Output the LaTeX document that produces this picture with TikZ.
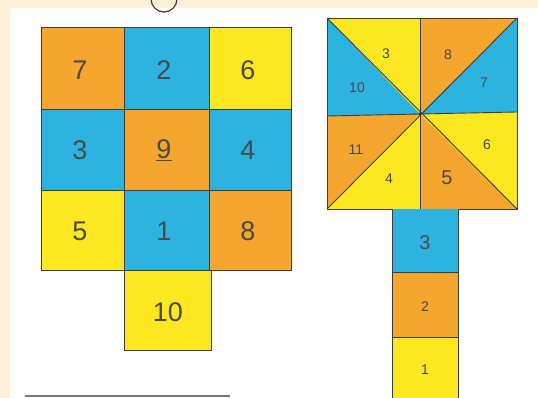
\documentclass[tikz,border=0pt]{standalone}
\usepackage{fontspec}
\setmainfont{Liberation Sans}
\definecolor{cream}{HTML}{FDF0D6}
\definecolor{org}{HTML}{F4A62E}
\definecolor{blu}{HTML}{2DB3E0}
\definecolor{yel}{HTML}{FDE720}
\definecolor{ink}{HTML}{3C3C3C}
\definecolor{num}{HTML}{4A4A4A}
\tikzset{
  edge/.style={draw=ink, line width=0.9pt},
  bignum/.style={text=num, font=\fontsize{27}{27}\selectfont, inner sep=0pt},
  midnum/.style={text=num, font=\fontsize{20}{20}\selectfont, inner sep=0pt},
  smallnum/.style={text=num, font=\fontsize{14}{14}\selectfont, inner sep=0pt}
}
\begin{document}
\begin{tikzpicture}[x=1pt,y=-1pt]
\useasboundingbox (0,0) rectangle (538,398);
\fill[cream] (0,0) rectangle (538,398);
\fill[white] (10,8) rectangle (538,398);
% top arc and bottom line fragments
\draw[ink, line width=1.2pt] (151,-1) arc[start angle=180, end angle=0, radius=13];
\draw[ink!70, line width=1.6pt] (25,396) -- (230,396);
% left grid
\fill[org] (41,27) rectangle (124,109);
\fill[blu] (124,27) rectangle (209,109);
\fill[yel] (209,27) rectangle (291,109);
\fill[blu] (41,109) rectangle (124,190);
\fill[org] (124,109) rectangle (209,190);
\fill[blu] (209,109) rectangle (291,190);
\fill[yel] (41,190) rectangle (124,270);
\fill[blu] (124,190) rectangle (209,270);
\fill[org] (209,190) rectangle (291,270);
\fill[yel] (124,270) rectangle (211,350);
\draw[edge] (41,27) rectangle (291,270);
\draw[edge] (124,27) -- (124,350) -- (211,350) -- (211,270);
\draw[edge] (209,27) -- (209,270);
\draw[edge] (41,109) -- (291,109);
\draw[edge] (41,190) -- (291,190);
\draw[edge] (41,270) -- (291,270);
\node[bignum] (l7) at (80,70) {7};
\node[bignum] (l2) at (164,70) {2};
\node[bignum] (l6) at (248,70) {6};
\node[bignum] (l3) at (80,150) {3};
\node[bignum] (l9) at (164,150) {\underline{9}};
\node[bignum] (l4) at (248,150) {4};
\node[bignum] (l5) at (80,231) {5};
\node[bignum] (l1) at (164,231) {1};
\node[bignum] (l8) at (248,231) {8};
\node[bignum] (l10) at (168,312) {10};
% right square pinwheel
\coordinate (TL) at (327,18);
\coordinate (TR) at (517,18);
\coordinate (BR) at (517,209);
\coordinate (BL) at (327,209);
\coordinate (TM) at (420,18);
\coordinate (BM) at (420,209);
\coordinate (LM) at (327,116);
\coordinate (RM) at (517,112);
\coordinate (C) at (420,114);
\fill[yel] (TL) -- (TM) -- (C) -- cycle;
\fill[blu] (TL) -- (C) -- (LM) -- cycle;
\fill[org] (TM) -- (TR) -- (C) -- cycle;
\fill[blu] (TR) -- (RM) -- (C) -- cycle;
\fill[yel] (RM) -- (BR) -- (C) -- cycle;
\fill[org] (C) -- (BR) -- (BM) -- cycle;
\fill[yel] (C) -- (BM) -- (BL) -- cycle;
\fill[org] (LM) -- (C) -- (BL) -- cycle;
\draw[edge] (TL) -- (TR) -- (BR) -- (BL) -- cycle;
\draw[edge] (TM) -- (BM);
\draw[edge] (LM) -- (C) -- (RM);
\draw[edge] (TL) -- (BR);
\draw[edge] (TR) -- (BL);
\fill[ink] (C) circle (1.8);
\node[smallnum] (r3) at (386,54) {3};
\node[smallnum] (r10) at (357,88) {10};
\node[smallnum] (r8) at (448,55) {8};
\node[smallnum] (r7) at (484,83) {7};
\node[smallnum] (r6) at (487,145) {6};
\node[midnum] (r5) at (447,178) {5};
\node[smallnum] (r4) at (389,179) {4};
\node[smallnum] (r11) at (356,150) {11};
% tail
\fill[blu] (392,209) rectangle (458,272);
\fill[org] (392,272) rectangle (458,337);
\fill[yel] (392,337) rectangle (458,398);
\draw[edge] (392,209) -- (392,398);
\draw[edge] (458,209) -- (458,398);
\draw[edge] (392,272) -- (458,272);
\draw[edge] (392,337) -- (458,337);
\node[midnum] (t3) at (425,243) {3};
\node[smallnum] (t2) at (425,307) {2};
\node[smallnum] (t1) at (425,370) {1};
\end{tikzpicture}
\end{document}
